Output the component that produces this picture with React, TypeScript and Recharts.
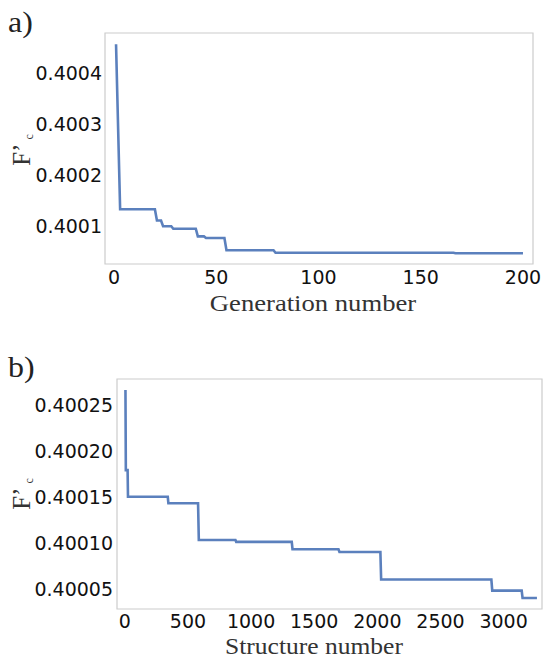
import { LineChart, Line, XAxis, YAxis, ReferenceArea } from 'recharts';

// a) best F'c per generation (breakpoints of the step curve)
const genNumber = [1, 3, 20, 21, 23, 24, 28, 29, 40, 41, 44, 45, 54, 55, 78, 79, 166, 167, 200];
const fcGen = [
  0.400457, 0.400134, 0.400134, 0.400112, 0.400112, 0.400101, 0.400101, 0.400096, 0.400096,
  0.400081, 0.400081, 0.400078, 0.400078, 0.400054, 0.400054, 0.400049, 0.400049, 0.400048,
  0.400048,
];
const genTicks = [0, 50, 100, 150, 200];
const fcGenTicks = [0.4001, 0.4002, 0.4003, 0.4004];

// b) best F'c per structure
const structNumber = [
  5, 8, 22, 25, 340, 345, 580, 586, 876, 882, 1322, 1328, 1692, 1700, 2024, 2030, 2903, 2910,
  3143, 3150, 3264,
];
const fcStruct = [
  0.400267, 0.40018, 0.40018, 0.400151, 0.400151, 0.400144, 0.400144, 0.400104, 0.400104,
  0.400102, 0.400102, 0.400094, 0.400094, 0.400091, 0.400091, 0.400061, 0.400061, 0.400049,
  0.400049, 0.400041, 0.400041,
];
const structTicks = [0, 500, 1000, 1500, 2000, 2500, 3000];
const fcStructTicks = [0.40005, 0.4001, 0.40015, 0.4002, 0.40025];

const dataA = genNumber.map((g, i) => ({ x: g, y: fcGen[i] }));
const dataB = structNumber.map((s, i) => ({ x: s, y: fcStruct[i] }));

const xDomA: [number, number] = [-4.4, 204.9];
const yDomA: [number, number] = [0.400027, 0.400479];
const xDomB: [number, number] = [-62, 3304];
const yDomB: [number, number] = [0.400029, 0.400279];

const lineColor = '#5b80bd';
const frameColor = '#cccccc';
const tickStyle = { fill: '#111', fontSize: 19, fontFamily: 'DejaVu Sans' };
const serif = '"Liberation Serif", "Times New Roman", serif';

function YLabel({ x, y }: { x: number; y: number }) {
  return (
    <text
      transform={`rotate(-90, ${x}, ${y})`}
      x={x}
      y={y}
      textAnchor="middle"
      fontFamily={serif}
      fontSize={25}
      fill="#333"
    >
      F’
      <tspan fontSize={12} dx={4} dy={3}>
        c
      </tspan>
    </text>
  );
}

export default function App() {
  return (
    <div style={{ position: 'absolute', left: 0, top: 0, width: 545, height: 658, background: '#fff' }}>
      <div style={{ position: 'absolute', left: 0, top: 0 }}>
        <LineChart width={545} height={320} data={dataA} margin={{ top: 33, right: 12, bottom: 32, left: 35 }}>
          <XAxis
            dataKey="x"
            type="number"
            domain={xDomA}
            allowDataOverflow
            ticks={genTicks}
            axisLine={false}
            tickLine={false}
            tickSize={5}
            tickMargin={2}
            height={24}
            tick={tickStyle}
          />
          <YAxis
            type="number"
            domain={yDomA}
            allowDataOverflow
            ticks={fcGenTicks}
            tickFormatter={(v: number) => v.toFixed(4)}
            axisLine={false}
            tickLine={false}
            tickSize={3}
            tickMargin={0}
            width={70}
            tick={tickStyle}
          />
          <ReferenceArea x1={xDomA[0]} x2={xDomA[1]} y1={yDomA[0]} y2={yDomA[1]} fill="none" stroke={frameColor} strokeWidth={1.2} />
          <Line dataKey="y" type="linear" stroke={lineColor} strokeWidth={2.6} dot={false} isAnimationActive={false} />
        </LineChart>
      </div>
      <div style={{ position: 'absolute', left: 0, top: 330 }}>
        <LineChart width={545} height={328} data={dataB} margin={{ top: 49, right: 3, bottom: 25, left: 37 }}>
          <XAxis
            dataKey="x"
            type="number"
            domain={xDomB}
            allowDataOverflow
            ticks={structTicks}
            axisLine={false}
            tickLine={false}
            tickSize={4}
            tickMargin={2}
            height={24}
            tick={tickStyle}
          />
          <YAxis
            type="number"
            domain={yDomB}
            allowDataOverflow
            ticks={fcStructTicks}
            tickFormatter={(v: number) => v.toFixed(5)}
            axisLine={false}
            tickLine={false}
            tickSize={4}
            tickMargin={0}
            width={80}
            tick={tickStyle}
          />
          <ReferenceArea x1={xDomB[0]} x2={xDomB[1]} y1={yDomB[0]} y2={yDomB[1]} fill="none" stroke={frameColor} strokeWidth={1.2} />
          <Line dataKey="y" type="linear" stroke={lineColor} strokeWidth={2.6} dot={false} isAnimationActive={false} />
        </LineChart>
      </div>
      <svg width={545} height={658} style={{ position: 'absolute', left: 0, top: 0, pointerEvents: 'none' }}>
        <text transform="translate(8, 32) scale(1.1, 1)" fontFamily={serif} fontSize={29} fill="#222">
          a)
        </text>
        <text transform="translate(8, 377) scale(1.1, 1)" fontFamily={serif} fontSize={29} fill="#222">
          b)
        </text>
        <text transform="translate(313, 311) scale(1.11, 1)" textAnchor="middle" fontFamily={serif} fontSize={24} fill="#333">
          Generation number
        </text>
        <text transform="translate(314, 654) scale(1.11, 1)" textAnchor="middle" fontFamily={serif} fontSize={23} fill="#333">
          Structure number
        </text>
        <YLabel x={30} y={150} />
        <YLabel x={30} y={494} />
      </svg>
    </div>
  );
}
